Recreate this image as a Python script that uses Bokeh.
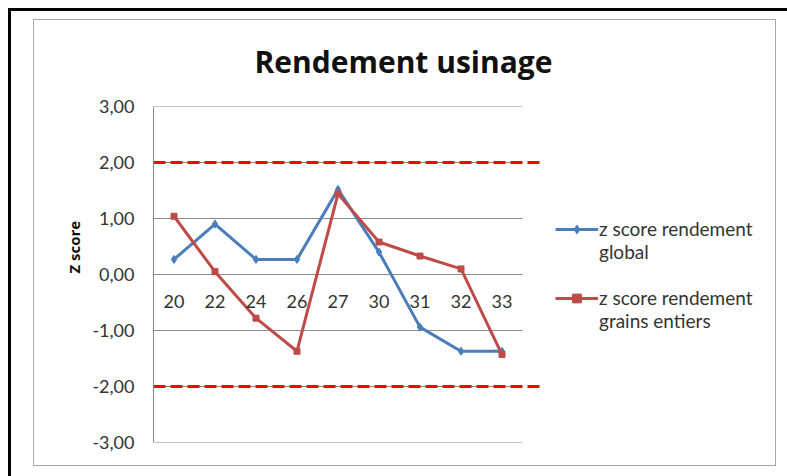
from bokeh.plotting import figure
from bokeh.models import (Range1d, FixedTicker, Title, Legend, LegendItem,
                          ColumnDataSource)
from bokeh.embed import file_html
from bokeh.resources import INLINE

# ---------------- data ----------------
categories = ["20", "22", "24", "26", "27", "30", "31", "32", "33"]
global_z = [0.27, 0.90, 0.27, 0.27, 1.52, 0.40, -0.94, -1.37, -1.37]
grains_z = [1.04, 0.05, -0.78, -1.37, 1.44, 0.58, 0.33, 0.10, -1.43]
y_ticks = [-3, -2, -1, 0, 1, 2, 3]
y_tick_labels = ["-3,00", "-2,00", "-1,00", "0,00", "1,00", "2,00", "3,00"]
limits = [2, -2]
series_names = ["z score rendement\nglobal", "z score rendement\ngrains entiers"]
title_text = "Rendement usinage"
y_title = "Z score"

FONT = "Lato"
BLUE = "#4A7EBB"
RED = "#BE4B48"
GRID = "#8C8C8C"
BOX = "#A6A6A6"

n = len(categories)
xs = list(range(n))

# layout (pixels)
CANVAS_W, CANVAS_H = 743, 454
LEFT, TOP, BOTTOM = 120, 94, 24
PX_PER_CAT = 41
frame_w = CANVAS_W - LEFT
x_end = -0.5 + frame_w / PX_PER_CAT
limit_end = n - 0.5 + 0.49

p = figure(width=CANVAS_W, height=CANVAS_H, output_backend="svg",
           toolbar_location=None,
           x_range=Range1d(-0.5, x_end), y_range=Range1d(-3, 3),
           min_border_left=LEFT, min_border_right=0, min_border_top=TOP,
           min_border_bottom=BOTTOM)

# chart-area box (grey lines) and the outer black border, via CSS
g = f"linear-gradient({BOX},{BOX})"
p.styles = {
    "margin-left": "33px",
    "margin-top": "12px",
    "background": (f"{g} left 0 top 7px / 100% 1px no-repeat, "
                   f"{g} left 0 bottom 0 / 100% 1px no-repeat, "
                   f"{g} left 0 top 7px / 1px calc(100% - 7px) no-repeat, "
                   f"{g} right 0 top 7px / 1px calc(100% - 7px) no-repeat, "
                   "#FFFFFF"),
    "box-shadow": "78px 99px 0 100px #FFFFFF, 75px 96px 0 100px #000000",
}
p.outline_line_color = None
p.xgrid.visible = False
p.ygrid.visible = False
p.background_fill_alpha = 0
p.border_fill_alpha = 0

# title
p.title.text = title_text
p.title.text_font = "Open Sans"
p.title.text_font_size = "30px"
p.title.text_font_style = "bold"
p.title.text_color = "#111111"
p.title.align = "left"
p.title.offset = 101
p.title.standoff = 50

# y axis
p.yaxis.ticker = FixedTicker(ticks=y_ticks)
p.yaxis.major_label_overrides = {t: l for t, l in zip(y_ticks, y_tick_labels)}
p.yaxis.major_label_text_font = FONT
p.yaxis.major_label_text_font_size = "18px"
p.yaxis.major_label_text_color = "#333333"
p.yaxis.axis_line_color = GRID
p.yaxis.major_tick_out = 0
p.yaxis.major_tick_in = 0
p.yaxis.minor_tick_line_color = None
p.yaxis.major_label_standoff = 19

# y axis title
p.add_layout(Title(text=y_title, align="left", offset=169, standoff=12,
                   text_font="Open Sans", text_font_size="15px",
                   text_font_style="bold", text_color="#111111"), "left")

# x axis (category labels sit under the zero line)
p.xaxis.ticker = FixedTicker(ticks=xs)
p.xaxis.major_label_overrides = {i: c for i, c in enumerate(categories)}
p.xaxis.fixed_location = 0
p.xaxis.axis_line_color = None
p.xaxis.major_tick_line_color = None
p.xaxis.minor_tick_line_color = None
p.xaxis.major_label_text_font = FONT
p.xaxis.major_label_text_font_size = "18px"
p.xaxis.major_label_text_color = "#333333"
p.xaxis.major_label_standoff = 14

# horizontal gridlines (ending at the last category boundary)
p.segment(x0=[-0.5] * len(y_ticks), x1=[n - 0.5] * len(y_ticks),
          y0=y_ticks, y1=y_ticks, line_color=GRID, line_width=1)

# control limits (+/- 2)
p.segment(x0=[-0.5] * len(limits), x1=[limit_end] * len(limits),
          y0=limits, y1=limits, line_color="#FF0000", line_width=3,
          line_dash="12 5")

# series
src = ColumnDataSource(dict(x=xs, g=global_z, r=grains_z))
l1 = p.line("x", "g", source=src, line_color=BLUE, line_width=3)
s1 = p.scatter("x", "g", source=src, marker="diamond", size=8,
               fill_color=BLUE, line_color=BLUE)
l2 = p.line("x", "r", source=src, line_color=RED, line_width=3)
s2 = p.scatter("x", "r", source=src, marker="square", size=6,
               fill_color=RED, line_color=RED)

# legend: a leading blank line keeps the glyph level with the first text line
legend = Legend(items=[LegendItem(label="\n" + series_names[0], renderers=[l1, s1]),
                       LegendItem(label="\n" + series_names[1], renderers=[l2, s2])],
                location=(402, 110), padding=0, margin=0, spacing=-11,
                glyph_width=43, glyph_height=22, label_standoff=1,
                label_text_font=FONT, label_text_font_size="19px",
                label_text_line_height=1.3,
                label_text_color="#333333", border_line_color=None,
                background_fill_alpha=0)
p.add_layout(legend)

open("out.html", "w").write(file_html(p, INLINE))
